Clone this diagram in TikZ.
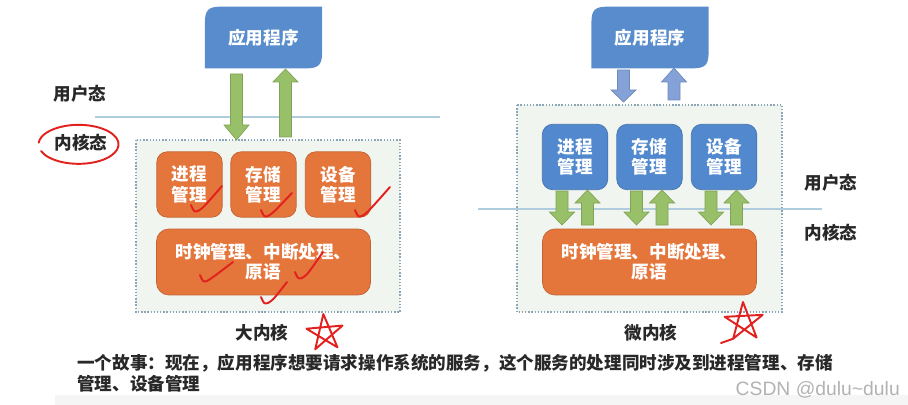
\documentclass[tikz,border=0pt]{standalone}
\usepackage{fontspec}
\setmainfont{Noto Sans CJK SC}
\newfontfamily\wmfont{Liberation Sans}
\usetikzlibrary{calc}
\definecolor{appblue}{RGB}{88,140,205}
\definecolor{mgrblue}{RGB}{82,137,206}
\definecolor{mgrorange}{RGB}{228,118,60}
\definecolor{arrgreen}{RGB}{152,192,104}
\definecolor{arrblue}{RGB}{132,162,215}
\definecolor{kernfill}{RGB}{240,245,240}
\definecolor{kernline}{RGB}{140,165,185}
\definecolor{sepblue}{RGB}{175,205,220}
\definecolor{penred}{RGB}{226,32,30}
\definecolor{labelgray}{RGB}{40,40,40}

\tikzset{
  boxfont/.style={text=white, font=\bfseries\fontsize{10}{11.5}\selectfont},
  appbox/.style={boxfont, minimum width=2.33cm, minimum height=1.22cm},
  mgrbox/.style={boxfont, rounded corners=6pt, align=center, minimum width=1.31cm, minimum height=1.31cm, line width=0.4pt},
  lmgr/.style={mgrbox, fill=mgrorange, draw=mgrorange!85!black},
  rmgr/.style={mgrbox, fill=mgrblue, draw=mgrblue!85!black},
  clockbox/.style={boxfont, rounded corners=7pt, align=center, fill=mgrorange, draw=mgrorange!85!black, line width=0.4pt, minimum width=4.28cm, minimum height=1.32cm},
  kernel/.style={fill=kernfill, draw=kernline, densely dotted, line width=0.8pt},
  statelabel/.style={text=labelgray, font=\bfseries\fontsize{10}{12}\selectfont},
  sepline/.style={draw=sepblue, line width=0.7pt},
  greenarr/.style={fill=arrgreen, draw=arrgreen!85!black, line width=0.4pt},
  bluearr/.style={fill=arrblue, draw=arrblue!85!black, line width=0.4pt},
  redpen/.style={draw=penred, line width=1.1pt, line cap=round, line join=round},
}

\newcommand{\fatarrow}[5]{%
  \filldraw[#1] ({#2-6},#3) -- ({#2-6},#4) -- ({#2-12.5},#4) -- (#2,#5)
    -- ({#2+12.5},#4) -- ({#2+6},#4) -- ({#2+6},#3) -- cycle;}
\newcommand{\tick}[4]{%
  \draw[redpen] ({#1-7},{#2-6}) .. controls ({#1-4},{#2+1}) .. (#1,#2)
    .. controls ({#1+5},{#2-3}) .. ({#1+#3},{#2-#4});}
\newcommand{\appshape}[1]{%
  \fill[appblue] (#1.south west) -- ([yshift=-9pt]#1.north west)
    .. controls ([yshift=-2pt]#1.north west) and ([xshift=2pt]#1.north west) .. ([xshift=9pt]#1.north west)
    -- (#1.north east) -- ([yshift=9pt]#1.south east)
    .. controls ([yshift=2pt]#1.south east) and ([xshift=-2pt]#1.south east) .. ([xshift=-9pt]#1.south east)
    -- cycle;}

\begin{document}
\begin{tikzpicture}[x=0.02cm, y=-0.02cm]
\useasboundingbox (0,0) rectangle (908,405);
\fill[black!4] (55,395) rectangle (908,405);

\draw[sepline] (95,117) -- (440,117);
\draw[kernel] (136,140) rectangle (400,312);
\path (263.5,37.5) node[appbox] (lapp) {};
\appshape{lapp}
\node[appbox] at (lapp) {应用程序};
\node[lmgr] (lproc) at (189.5,184.5) {进程\\管理};
\node[lmgr] (lmem) at (263.5,184.5) {存储\\管理};
\node[lmgr] (ldev) at (338,184.5) {设备\\管理};
\node[clockbox] (lclock) at (263.5,262) {时钟管理、中断处理、\\原语};
\fatarrow{greenarr}{236.5}{74}{125}{140}
\fatarrow{greenarr}{285.5}{137}{82}{69}
\node[statelabel] (luser) at (80,94) {用户态};
\node[statelabel] (lkern) at (81,143) {内核态};
\node[statelabel] (lname) at (262,333) {大内核};

\draw[kernel] (517,105) rectangle (782,312);
\path (650,37.5) node[appbox] (rapp) {};
\appshape{rapp}
\node[appbox] at (rapp) {应用程序};
\node[rmgr] (rproc) at (575,157) {进程\\管理};
\node[rmgr] (rmem) at (649.5,157) {存储\\管理};
\node[rmgr] (rdev) at (724,157) {设备\\管理};
\node[clockbox] (rclock) at (649.5,262) {时钟管理、中断处理、\\原语};
\fatarrow{bluearr}{623.5}{70}{90}{102}
\fatarrow{bluearr}{674}{100}{82}{68}
\draw[sepline] (478,209) -- (822,209);
\foreach \cx in {575,649.5,724} {
  \fatarrow{greenarr}{\cx-13}{191}{212}{225}
  \fatarrow{greenarr}{\cx+12.5}{225}{203}{190}
}
\node[statelabel] (ruser) at (831,183) {用户态};
\node[statelabel] (rkern) at (831,233) {内核态};
\node[statelabel] (rname) at (651,333) {微内核};

\node[statelabel, anchor=base west, inner sep=0pt] (story) at (77,369)
  {一个故事：现在，应用程序想要请求操作系统的服务，这个服务的处理同时涉及到进程管理、存储};
\node[statelabel, anchor=base west, inner sep=0pt] (story2) at (77,390) {管理、设备管理};
\node[anchor=east, text=black!30, font=\wmfont\fontsize{11}{13}\selectfont] (csdn) at (906,390) {CSDN @dulu\textasciitilde dulu};

\draw[redpen] (41,151) arc[start angle=200, end angle=535, x radius=0.8cm, y radius=0.39cm];
\tick{198}{211}{24}{25}
\tick{268}{216}{24}{23}
\tick{362}{216}{28}{29}
\tick{207}{281}{26}{19}
\tick{302}{278}{21}{26}
\tick{268}{303}{19}{21}
\coordinate (lstar) at (325,333);
\coordinate (rstar) at (744,322);
\draw[redpen] ($(lstar)+(95:0.38cm)$) \foreach \a in {239,23,167,311,95} { -- ($(lstar)+(\a:0.38cm)$) };
\draw[redpen] (721,343) -- ($(rstar)+(237:0.4cm)$) -- ($(rstar)+(93:0.4cm)$) -- ($(rstar)+(309:0.4cm)$) -- ($(rstar)+(165:0.4cm)$) -- ($(rstar)+(21:0.4cm)$) -- ($(rstar)+(237:0.4cm)$);
\end{tikzpicture}
\end{document}
